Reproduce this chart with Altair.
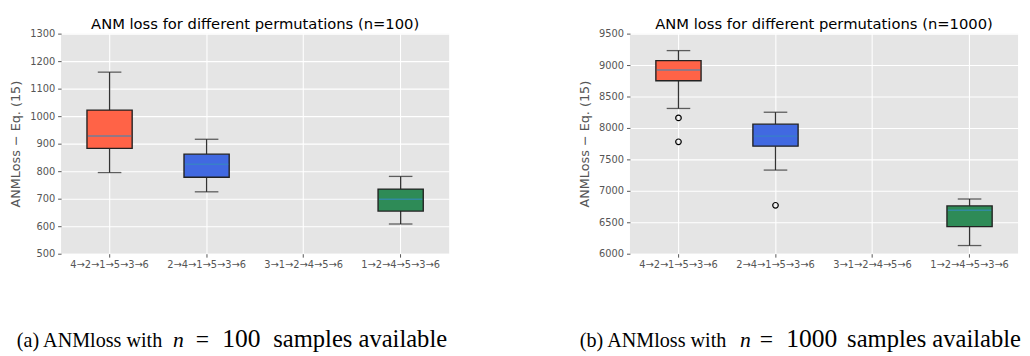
import altair as alt
import pandas as pd

cats = ["4→2→1→5→3→6", "2→4→1→5→3→6", "3→1→2→4→5→6", "1→2→4→5→3→6"]
box_cats = ["4→2→1→5→3→6", "2→4→1→5→3→6", "1→2→4→5→3→6"]
colors = ["#FF6347", "#4169E1", "#2E8B57"]

# n = 100
a_low = [795, 725, 608]
a_q1 = [883, 778, 655]
a_med = [928, 825, 698]
a_q3 = [1022, 862, 735]
a_high = [1160, 916, 781]
a_out_cat = []
a_out_val = []

# n = 1000
b_low = [8310, 7330, 6130]
b_q1 = [8750, 7710, 6430]
b_med = [8920, 7870, 6690]
b_q3 = [9070, 8060, 6760]
b_high = [9230, 8250, 6870]
b_out_cat = ["4→2→1→5→3→6", "4→2→1→5→3→6", "2→4→1→5→3→6"]
b_out_val = [8160, 7780, 6770]

a_ticks = list(range(500, 1301, 100))
b_ticks = list(range(6000, 9501, 500))

# caption pieces: text, italic, font size
a_caption = [("(a) ANMloss with", False, 20.5), ("n", True, 22), ("=", False, 24),
             ("100", False, 26), ("samples available", False, 25)]
b_caption = [("(b) ANMloss with", False, 20.5), ("n", True, 22), ("=", False, 24),
             ("1000", False, 26), ("samples available", False, 25)]
a_cap_x = [-45, 114, 137, 164, 216]
b_cap_x = [-51, 112, 132, 159, 221]

W, H = 395, 224
LBL = "#555555"
FONT = "DejaVu Sans"


def panel(low, q1, med, q3, high, oc, ov, ticks, title, cap, cap_x):
    df = pd.DataFrame({"cat": box_cats, "low": low, "q1": q1, "med": med,
                       "q3": q3, "high": high, "color": colors})
    xs = alt.X("cat:N", sort=cats,
               scale=alt.Scale(domain=cats, paddingInner=0, paddingOuter=0),
               axis=alt.Axis(title=None, labelAngle=0, domain=False,
                             tickColor=LBL, tickSize=3.5, labelColor=LBL,
                             labelFont=FONT, labelFontSize=10, labelPadding=3,
                             grid=True, gridColor="white", gridWidth=1.1))
    ysc = alt.Scale(domain=[ticks[0], ticks[-1]], nice=False, zero=False)
    yax = alt.Axis(title="ANMLoss − Eq. (15)", values=ticks, format="d",
                   labelOverlap=False, domain=False,
                   tickColor=LBL, tickSize=3.5, labelColor=LBL, labelFont=FONT,
                   labelFontSize=10, labelPadding=3, titleFont=FONT,
                   titleFontSize=13, titleColor=LBL, titleFontWeight="normal",
                   titlePadding=7, grid=True, gridColor="white", gridWidth=1.1)

    def Y(f):
        return alt.Y(f, scale=ysc, axis=yax)

    base = alt.Chart(df)
    wl = base.mark_rule(color="#333333", strokeWidth=1.3).encode(
        x=xs, y=Y("low:Q"), y2="q1:Q")
    wh = base.mark_rule(color="#333333", strokeWidth=1.3).encode(
        x=xs, y=Y("q3:Q"), y2="high:Q")
    capl = base.mark_tick(color="#222222", size=24, thickness=1.3).encode(
        x=xs, y=Y("low:Q"))
    caph = base.mark_tick(color="#222222", size=24, thickness=1.3).encode(
        x=xs, y=Y("high:Q"))
    box = base.mark_bar(size=46, stroke="#222222", strokeWidth=1.4).encode(
        x=xs, y=Y("q1:Q"), y2="q3:Q",
        color=alt.Color("color:N", scale=None))
    med_m = base.mark_tick(color="#348ABD", size=44, thickness=1.5).encode(
        x=xs, y=Y("med:Q"))
    layers = [wl, wh, capl, caph, box, med_m]
    if oc:
        dfo = pd.DataFrame({"cat": oc, "val": ov})
        pts = alt.Chart(dfo).mark_point(shape="circle", filled=False,
                                        color="black", size=32,
                                        strokeWidth=1.2, opacity=1).encode(
            x=xs, y=Y("val:Q"))
        layers.append(pts)
    for (txt, italic, fs), xpos in zip(cap, cap_x):
        layers.append(
            alt.Chart(pd.DataFrame({"t": [txt]})).mark_text(
                align="left", baseline="alphabetic", font="Liberation Serif",
                fontSize=fs, color="black",
                fontStyle="italic" if italic else "normal").encode(
                x=alt.value(xpos), y=alt.value(319), text="t:N"))
    return alt.layer(*layers).properties(
        width=W, height=H,
        title=alt.TitleParams(title, font=FONT, fontSize=15, frame="group",
                              fontWeight="normal", color="black", offset=-3))


left = panel(a_low, a_q1, a_med, a_q3, a_high, a_out_cat, a_out_val, a_ticks,
             "ANM loss for different permutations (n=100)", a_caption, a_cap_x)
right = panel(b_low, b_q1, b_med, b_q3, b_high, b_out_cat, b_out_val, b_ticks,
              "ANM loss for different permutations (n=1000)", b_caption, b_cap_x)

chart = alt.hconcat(left, right, spacing=132).properties(
    padding={"left": 2, "top": 6, "right": 0, "bottom": 0}
).configure(background="white").configure_view(fill="#E5E5E5", stroke=None)

chart.save("out.html", embed_options={"renderer": "svg", "actions": False})
